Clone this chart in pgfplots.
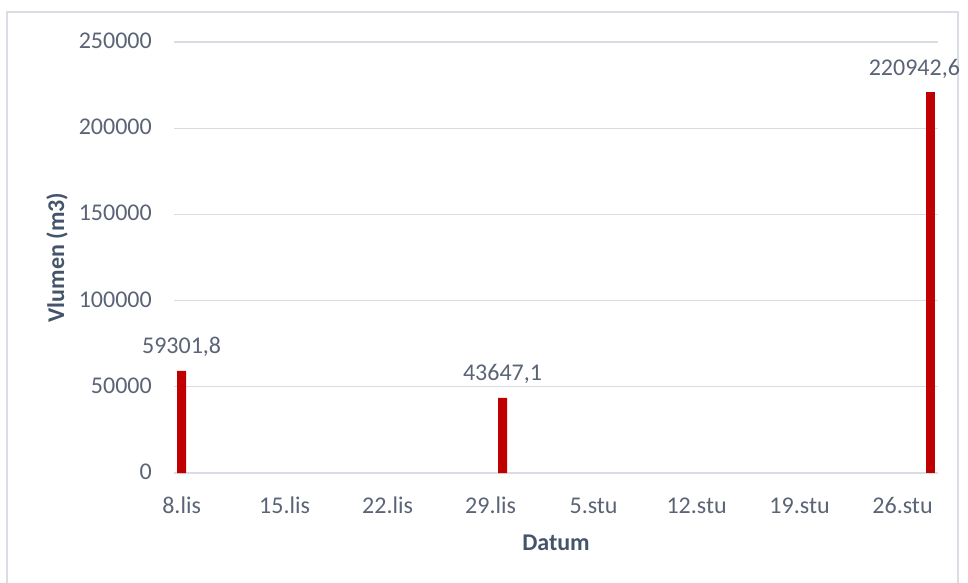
\documentclass[border=0pt]{standalone}
\usepackage{fontspec}
\setmainfont{Carlito}
\usepackage{pgfplots}
\pgfplotsset{compat=1.18}
\definecolor{lbl}{RGB}{90,100,118}
\definecolor{ttl}{RGB}{68,84,106}
\definecolor{gridc}{RGB}{217,221,227}
\definecolor{framec}{RGB}{218,222,228}
\definecolor{barc}{RGB}{192,0,0}
\begin{document}
\fontsize{24}{28}\selectfont
\begin{tikzpicture}
\path[use as bounding box] (0pt,0pt) rectangle (968pt,-582pt);
\draw[framec, line width=1.5pt] (7pt,-590pt) -- (7pt,-12pt) -- (958pt,-12pt) -- (958pt,-590pt);
\begin{axis}[
 at={(174pt,-473pt)}, anchor=south west,
 scale only axis, width=764pt, height=431pt,
 xmin=-0.5, xmax=49.5, ymin=0, ymax=250000,
 axis line style={draw=none},
 major tick length=0pt,
 ytick={0,50000,100000,150000,200000,250000},
 xtick={0,6.74,13.48,20.22,26.96,33.7,40.44,47.18},
 xticklabels={8.lis,15.lis,22.lis,29.lis,5.stu,12.stu,19.stu,26.stu},
 ymajorgrids, grid style={gridc, line width=1.3pt},
 scaled y ticks=false,
 /pgf/number format/.cd, fixed, 1000 sep={}, assume math mode=true, /pgfplots/.cd,
 tick label style={color=lbl, font=\fontsize{24}{28}\selectfont, inner sep=0pt},
 xticklabel style={anchor=base, yshift=-40pt},
 yticklabel style={anchor=base east, xshift=-22pt, yshift=-6.5pt},
 xlabel={Datum}, ylabel={Vlumen (m3)},
 every axis x label/.style={at={(axis description cs:0.5,0)}, anchor=base, yshift=-77pt, color=ttl, font=\bfseries\fontsize{24}{28}\selectfont, inner sep=0pt},
 every axis y label/.style={at={(axis description cs:0,0.5)}, xshift=-117pt, rotate=90, anchor=center, color=ttl, font=\bfseries\fontsize{24}{28}\selectfont, inner sep=0pt},
 ybar, bar width=9pt,
 nodes near coords,
 every node near coord/.append style={color=lbl, anchor=base, yshift=17pt, inner sep=0pt, font=\fontsize{24}{28}\selectfont, /pgf/number format/fixed zerofill, /pgf/number format/precision=1, /pgf/number format/use comma, /pgf/number format/1000 sep={}},
 clip=false,
]
\addplot[fill=barc, draw=none, bar shift=0pt] coordinates {(0,59301.8) (21,43647.1)};
\addplot[fill=barc, draw=none, bar shift=0pt, every node near coord/.append style={xshift=-16pt}] coordinates {(49,220942.6)};
\end{axis}
\end{tikzpicture}
\end{document}
